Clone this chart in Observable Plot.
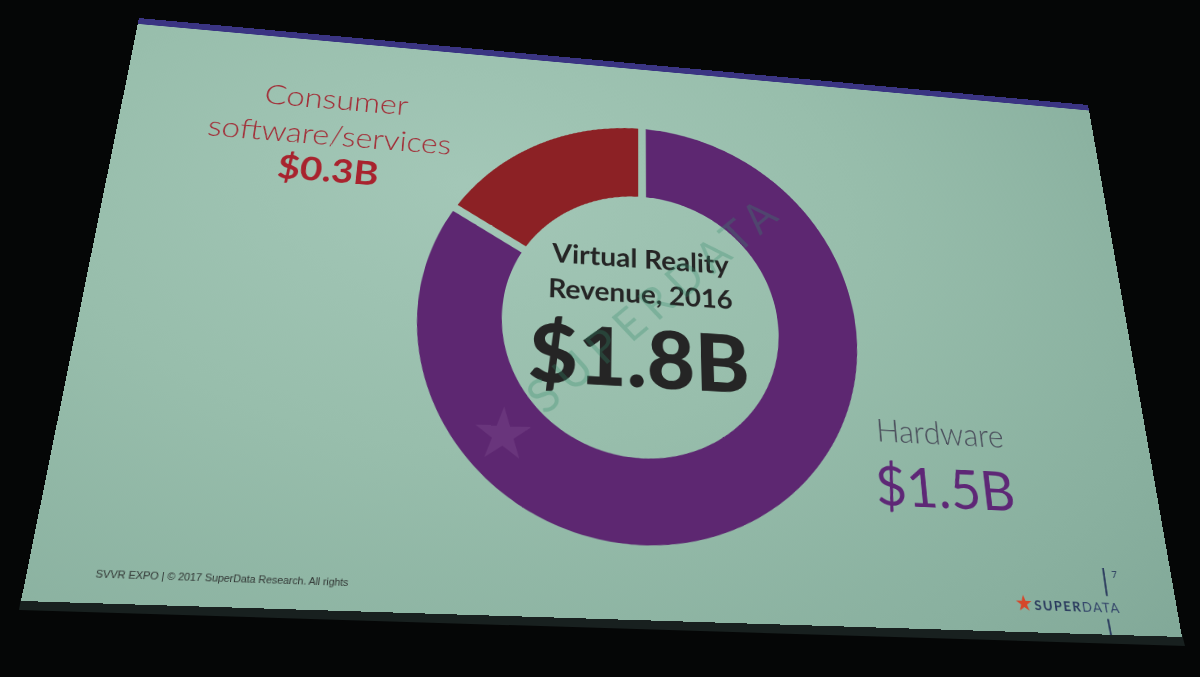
<!DOCTYPE html>
<html><head><meta charset="utf-8">
<script src="https://cdn.jsdelivr.net/npm/d3@7"></script>
<script src="https://cdn.jsdelivr.net/npm/@observablehq/plot@0.6"></script>
<style>
html,body{margin:0;padding:0;background:#050606;width:1200px;height:677px;overflow:hidden;}
#edge{position:absolute;left:0;top:0;width:1200px;height:677px;background:#18201f;
 clip-path:polygon(21px 598px, 1182px 634px, 1185px 646px, 19px 610px);}
#slide{position:absolute;left:0;top:0;width:1280px;height:720px;transform-origin:0 0;overflow:hidden;
 background: radial-gradient(ellipse 95% 115% at 33% 28%, #a3c7b7 0%, #98beac 40%, #89b09f 78%, #7fa696 100%);}
#band{position:absolute;left:0;top:0;width:1280px;height:9px;background:#3a3482;}
</style></head><body>
<div id="edge"></div>
<div id="slide"><div id="band"></div></div>
<script>
// ---------- data ----------
const categories = ["Hardware", "Consumer software/services"];
const revenue = [1.5, 0.3];                 // $B, 2016
const sliceColors = ["#5d2771", "#8c2125"];
const labelLines = [["Hardware"], ["Consumer", "software/services"]];
const titleLines = ["Virtual Reality", "Revenue, 2016"];
const footerText = "SVVR EXPO | © 2017 SuperData Research. All rights";
const brand = ["SUPER", "DATA"];
const pageNumber = "7";
const fmt = v => `$${v.toFixed(1)}B`;

// ---------- perspective of the photographed slide ----------
const W = 1280, H = 720;
const quad = [[139,18],[1088,105],[1182,637],[21,601]];
function homography(q){
  const [x0,y0]=q[0],[x1,y1]=q[1],[x2,y2]=q[2],[x3,y3]=q[3];
  const dx1=x1-x2, dx2=x3-x2, dx3=x0-x1+x2-x3, dy1=y1-y2, dy2=y3-y2, dy3=y0-y1+y2-y3;
  const den=dx1*dy2-dx2*dy1;
  const g=(dx3*dy2-dx2*dy3)/den, h=(dx1*dy3-dx3*dy1)/den;
  const a=x1-x0+g*x1, b=x3-x0+h*x3, c=x0, d=y1-y0+g*y1, e=y3-y0+h*y3, f=y0;
  return [[a/W,b/H,c],[d/W,e/H,f],[g/W,h/H,1]];
}
function inv3(m){
  const [a,b,c]=m[0],[d,e,f]=m[1],[g,h,i]=m[2];
  const A=e*i-f*h, B=-(d*i-f*g), C=d*h-e*g, D=-(b*i-c*h), E=a*i-c*g, F=-(a*h-b*g), G=b*f-c*e, Hh=-(a*f-c*d), I=a*e-b*d;
  const det=a*A+b*B+c*C;
  return [[A/det,D/det,G/det],[B/det,E/det,Hh/det],[C/det,F/det,I/det]];
}
const M = homography(quad), Mi = inv3(M);
const slide = document.getElementById("slide");
slide.style.transform = `matrix3d(${M[0][0]},${M[1][0]},0,${M[2][0]},${M[0][1]},${M[1][1]},0,${M[2][1]},0,0,1,0,${M[0][2]},${M[1][2]},0,${M[2][2]})`;
function toFlat(x,y){
  const u=Mi[0][0]*x+Mi[0][1]*y+Mi[0][2], v=Mi[1][0]*x+Mi[1][1]*y+Mi[1][2], w=Mi[2][0]*x+Mi[2][1]*y+Mi[2][2];
  return [u/w, v/w];
}
function scaleAt(x,y){
  const a=toFlat(x-1,y), b=toFlat(x+1,y), c=toFlat(x,y-1), d=toFlat(x,y+1);
  const ux=(b[0]-a[0])/2, vx=(b[1]-a[1])/2, uy=(d[0]-c[0])/2, vy=(d[1]-c[1])/2;
  return Math.sqrt(Math.abs(ux*vy-uy*vx));
}

// ---------- donut geometry (layout) ----------
const oL=toFlat(415,337), oR=toFlat(857,337), oT=toFlat(636,129), oB=toFlat(636,545);
const iL=toFlat(500,330), iR=toFlat(778,330), iT=toFlat(638,197), iB=toFlat(638,458);
const C = [(oL[0]+oR[0])/2, (oT[1]+oB[1])/2];
const R = ((oR[0]-oL[0]) + (oB[1]-oT[1]))/4;
const ri = ((iR[0]-iL[0]) + (iB[1]-iT[1]))/4;
const q = ri/R;
const p = 5/R; // half gap

const total = d3.sum(revenue);
const cum = d3.cumsum(revenue);
const rows = [];
categories.forEach((cat,i)=>{
  const a0 = 2*Math.PI*(cum[i]-revenue[i])/total, a1 = 2*Math.PI*cum[i]/total;
  const pin = Math.asin(p/q), pout = Math.asin(p);
  const n = Math.max(4, Math.round((a1-a0)*180/Math.PI));
  for (let j=0;j<=n;j++){
    const t=j/n, ti=a0+pin+t*(a1-a0-2*pin), to=a0+pout+t*(a1-a0-2*pout);
    rows.push({cat, xi:q*Math.sin(ti), yi:q*Math.cos(ti), xo:Math.sin(to), yo:Math.cos(to)});
  }
});

function centerText(str, sx, sy, size, weight){
  const [u,v]=toFlat(sx,sy), k=scaleAt(sx,sy);
  return Plot.text([str], {x:0, y:0, text:d=>d, dx:u-C[0], dy:v-C[1], lineAnchor:"bottom", textAnchor:"middle",
    fontFamily:"Lato, sans-serif", fontWeight:weight, fontSize:size*k, fill:"#252525"});
}

const plot = Plot.plot({
  width: 2*R+4, height: 2*R+4, margin: 2,
  x:{domain:[-1,1], axis:null}, y:{domain:[-1,1], axis:null},
  color:{domain:categories, range:sliceColors},
  style:{background:"transparent", overflow:"visible"},
  marks:[
    Plot.area(rows, {x1:"xi", y1:"yi", x2:"xo", y2:"yo", z:"cat", fill:"cat", curve:"linear"}),
    centerText(titleLines[0], 641, 268, 27, 700),
    centerText(titleLines[1], 641, 303, 27, 700),
    centerText(fmt(total), 640, 387, 83, 900)
  ]
});
const holder = document.createElement("div");
holder.style.cssText = `position:absolute;left:${C[0]-R-2}px;top:${C[1]-R-2}px;width:${2*R+4}px;height:${2*R+4}px;`;
holder.appendChild(plot);
slide.appendChild(holder);

// ---------- annotations ----------
const ann = d3.select(slide).append("svg").attr("width",W).attr("height",H)
  .style("position","absolute").style("left","0px").style("top","0px").style("overflow","visible");
function txt(str, sx, sy, o){
  const [u,v]=toFlat(sx,sy), k=scaleAt(sx,sy);
  const t = ann.append("text").attr("x",u).attr("y",v).attr("text-anchor",o.anchor||"start")
    .attr("font-family",o.family||"Lato, sans-serif").attr("font-size",o.size*k).attr("font-weight",o.weight||400)
    .attr("fill",o.color).style("white-space","pre").text(str);
  if (o.len) t.attr("textLength", o.len*k).attr("lengthAdjust","spacing");
  return t;
}
// watermark
{
  const [su,sv]=toFlat(503,433), k=scaleAt(503,433);
  ann.append("text").attr("x",su).attr("y",sv).attr("text-anchor","middle").attr("dominant-baseline","central")
    .attr("font-family","DejaVu Sans").attr("font-size",72*k).attr("fill","rgba(255,235,255,0.08)").text("★");
  const p0=toFlat(545,416), p1=toFlat(780,219), kk=scaleAt(660,310);
  const ang=Math.atan2(p1[1]-p0[1], p1[0]-p0[0])*180/Math.PI;
  ann.append("text").attr("x",p0[0]).attr("y",p0[1]).attr("transform",`rotate(${ang},${p0[0]},${p0[1]})`)
    .attr("font-family","Lato, sans-serif").attr("font-weight",400).attr("font-size",44*kk).attr("fill","rgba(50,140,105,0.3)")
    .attr("textLength",Math.hypot(p1[0]-p0[0],p1[1]-p0[1])).attr("lengthAdjust","spacing").text(brand.join(""));
}
const redText = "#a22b35";
txt(labelLines[1][0], 336, 109, {anchor:"middle", size:30, weight:300, color:redText});
txt(labelLines[1][1], 330, 145, {anchor:"middle", size:30, weight:300, color:redText});
txt(fmt(revenue[1]), 327, 182, {anchor:"middle", size:36, weight:700, color:"#a8232e"});
txt(labelLines[0][0], 877, 441, {size:31, weight:300, color:"#4b4f5c"});
txt(fmt(revenue[0]), 877, 505, {size:55, weight:400, color:"#5e2776"});
txt(footerText, 95, 578, {size:11, family:"Arial, 'Liberation Sans', sans-serif", color:"#313634", len:257});
// logo
{
  const [u,v]=toFlat(1025,611), k=scaleAt(1025,611);
  ann.append("text").attr("x",u).attr("y",v).attr("text-anchor","middle").attr("font-family","DejaVu Sans")
    .attr("font-size",21*k).attr("fill","#d6462a").text("★");
  const t = txt("", 1035, 610, {size:13.5, color:"#2b3b5e", len:89});
  t.append("tspan").attr("font-weight",700).text(brand[0]);
  t.append("tspan").attr("font-weight",400).attr("fill","#34466a").text(brand[1]);
  txt(pageNumber, 1112, 578, {size:10, color:"#2b3b5e"});
  const a=toFlat(1103,568), b=toFlat(1107,596), c=toFlat(1108,619), d=toFlat(1113,645);
  ann.append("line").attr("x1",a[0]).attr("y1",a[1]).attr("x2",b[0]).attr("y2",b[1]).attr("stroke","#2b3b5e").attr("stroke-width",2*k);
  ann.append("line").attr("x1",c[0]).attr("y1",c[1]).attr("x2",d[0]).attr("y2",d[1]).attr("stroke","#2b3b5e").attr("stroke-width",2*k);
}
</script>
</body></html>
